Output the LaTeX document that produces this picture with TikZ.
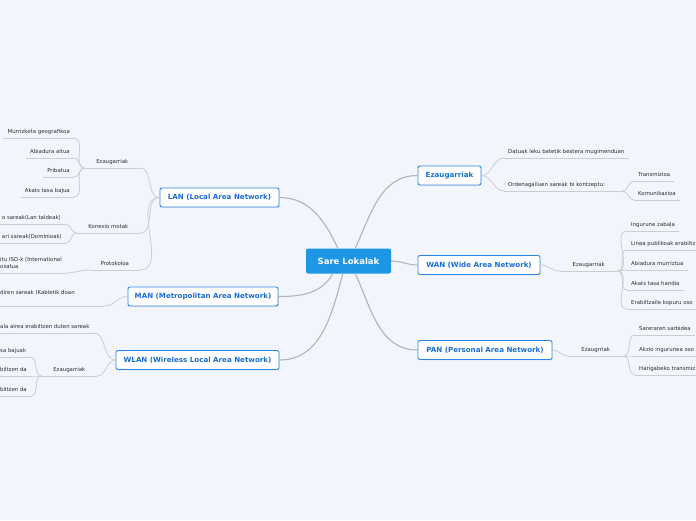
\documentclass[tikz,border=0pt]{standalone}
\usepackage{fontspec}
\setmainfont{DejaVu Sans}
\usepackage{xcolor}
\usetikzlibrary{shadows}
\definecolor{bgpale}{HTML}{F2F5FC}
\definecolor{rootblue}{HTML}{1E96E6}
\definecolor{nodeblue}{HTML}{2F86E8}
\definecolor{textblue}{HTML}{1A6FD6}
\definecolor{ink}{HTML}{2E2E2E}
\definecolor{branch}{HTML}{B4B4B4}
\definecolor{twig}{HTML}{CDCDCD}
\tikzset{root/.style={fill=rootblue,rounded corners=2pt,text=white,
  font=\fontsize{8.5}{9}\selectfont\bfseries,minimum width=85pt,minimum height=25pt},
  mainbox/.style={draw=nodeblue,line width=0.9pt,fill=white,rounded corners=2pt,
  text=textblue,font=\fontsize{7.1}{8}\selectfont\bfseries,inner xsep=5pt,
  minimum height=19pt,drop shadow={opacity=0.18,shadow xshift=0.5pt,shadow yshift=-0.8pt}},
  leaf/.style={text=ink,font=\fontsize{5.4}{7}\selectfont,inner xsep=4pt,
  inner ysep=3.5pt,text height=3.9pt,text depth=1.2pt},
  sub/.style={leaf,inner xsep=0pt},
  link/.style={draw=branch,line width=1.1pt},
  twiglink/.style={draw=twig,line width=0.8pt},
  uline/.style={draw=twig,line width=0.8pt}}
\begin{document}
\begin{tikzpicture}[x=1pt,y=1pt]
\useasboundingbox (0,0) rectangle (696,-520);
\clip (0,0) rectangle (696,-520);
\fill[bgpale] (0,0) rectangle (696,-520);
% centre and main branches
\node[root] (root) at (348.5,-261) {Sare Lokalak};
\node[mainbox,minimum width=119pt] (lan) at (219.5,-197.5) {LAN (Local Area Network)};
\node[mainbox,minimum width=150pt] (man) at (203,-296.5) {MAN (Metropolitan Area Network)};
\node[mainbox,minimum width=163pt] (wlan) at (197.5,-360) {WLAN (Wireless Local Area Network)};
\node[mainbox,minimum width=63pt] (rez) at (449.5,-175.5) {Ezaugarriak};
\node[mainbox,minimum width=122pt] (wan) at (479,-265) {WAN (Wide Area Network)};
\node[mainbox,minimum width=134pt] (pan) at (485,-350) {PAN (Personal Area Network)};
% LAN
\node[sub,minimum width=55pt,anchor=south east] (lanez) at (140,-168) {Ezaugarriak};
\node[leaf,anchor=south east] (murr) at (74,-138) {Murrizketa geografikoa};
\node[leaf,anchor=south east] (abia) at (74,-158) {Abiadura altua};
\node[leaf,anchor=south east] (prib) at (74,-177) {Pribatua};
\node[leaf,anchor=south east] (bajua) at (74,-197) {Akats tasa bajua};
\node[sub,minimum width=63pt,anchor=south east] (konex) at (140,-233) {Konexio motak};
\node[leaf,anchor=south east] (talde) at (65,-224) {o sareak(Lan taldeak)};
\node[leaf,anchor=south east] (domin) at (66,-243) {ari sareak(Dominioak)};
\node[sub,minimum width=50pt,anchor=south east] (proto) at (140,-270) {Protokoloa};
\node[leaf,align=left,anchor=south west] (iso) at (-4,-273) {itu ISO-k (International\\osatua};
% MAN
\node[leaf,text width=100pt,align=left,text depth=7.5pt,anchor=south west] (kable) at (-4,-306) {diren sareak (Kabletik doan};
% WLAN
\node[leaf,anchor=south west] (aire) at (-4,-333) {ala airea erabiltzen duten sareak};
\node[sub,minimum width=55pt,anchor=south east] (wlanez) at (97,-376) {Ezaugarriak};
\node[leaf,anchor=south west] (bajuak) at (-4,-357) {sa bajuak};
\node[leaf,anchor=south west] (erab1) at (-4,-376) {biltzen da};
\node[leaf,anchor=south west] (erab2) at (-4,-396) {biltzen da};
% Ezaugarriak (right)
\node[leaf,anchor=south west] (datu) at (504,-158) {Datuak leku batetik bestera mugimenduan};
\node[leaf,text width=110pt,align=left,anchor=south west] (orden) at (504,-191) {Ordenagailuen sareak bi kontzeptu:};
\node[leaf,anchor=south west] (trans) at (634,-181) {Transmizioa};
\node[leaf,anchor=south west] (komun) at (634,-200) {Komunikazioa};
% WAN
\node[sub,minimum width=57pt,anchor=south west] (wanez) at (560,-271) {Ezaugarriak};
\node[leaf,anchor=south west] (ingur) at (627,-231) {Ingurune zabala};
\node[leaf,anchor=south west] (linea) at (627,-250) {Linea publikoak erabiltz};
\node[leaf,anchor=south west] (murriz) at (627,-270) {Abiadura murriztua};
\node[leaf,anchor=south west] (handia) at (627,-290) {Akats tasa handia};
\node[leaf,anchor=south west] (kopur) at (627,-309) {Erabiltzaile kopuru oso};
% PAN
\node[sub,minimum width=55pt,anchor=south west] (panez) at (568,-356) {Ezaugrriak};
\node[leaf,anchor=south west] (sarb) at (635,-335) {Sareraren sarbidea};
\node[leaf,anchor=south west] (akzio) at (635,-356) {Akzio ingurunea oso};
\node[leaf,anchor=south west] (hari) at (635,-375) {Harigabeko transmiz};
% underlines
\foreach \n in {lanez,murr,abia,prib,bajua,konex,talde,domin,proto,iso,kable,aire,
  wlanez,bajuak,erab1,erab2,datu,orden,trans,komun,wanez,ingur,linea,murriz,handia,
  kopur,panez,sarb,akzio,hari}
  \draw[uline] (\n.south west) -- (\n.south east);
% branches from the centre
\draw[link] (root.130) to[out=115,in=0] (lan.east);
\draw[link] (root.219) to[out=240,in=0] (man.east);
\draw[link] (root.246) to[out=255,in=0] (wlan.east);
\draw[link] (root.62) to[out=65,in=180] (rez.west);
\draw[link] (root.east) to[out=0,in=180] (wan.west);
\draw[link] (root.298) to[out=295,in=180] (pan.west);
% left twigs
\foreach \n in {lanez,konex,proto}
  \draw[twiglink] (lan.west) to[out=180,in=0] (\n.south east);
\foreach \n in {murr,abia,prib,bajua}
  \draw[twiglink] (lanez.south west) to[out=180,in=0] (\n.south east);
\foreach \n in {talde,domin}
  \draw[twiglink] (konex.south west) to[out=180,in=0] (\n.south east);
\draw[twiglink] (proto.south west) to[out=180,in=0] (iso.south east);
\draw[twiglink] (man.west) to[out=180,in=0] (kable.south east);
\foreach \n in {aire,wlanez}
  \draw[twiglink] (wlan.west) to[out=180,in=0] (\n.south east);
\foreach \n in {bajuak,erab1,erab2}
  \draw[twiglink] (wlanez.south west) to[out=180,in=0] (\n.south east);
% right twigs
\foreach \n in {datu,orden}
  \draw[twiglink] (rez.east) to[out=0,in=180] (\n.south west);
\foreach \n in {trans,komun}
  \draw[twiglink] (orden.south east) to[out=0,in=180] (\n.south west);
\draw[twiglink] (wan.east) to[out=0,in=180] (wanez.south west);
\foreach \n in {ingur,linea,murriz,handia,kopur}
  \draw[twiglink] (wanez.south east) to[out=0,in=180] (\n.south west);
\draw[twiglink] (pan.east) to[out=0,in=180] (panez.south west);
\foreach \n in {sarb,akzio,hari}
  \draw[twiglink] (panez.south east) to[out=0,in=180] (\n.south west);
\end{tikzpicture}
\end{document}
